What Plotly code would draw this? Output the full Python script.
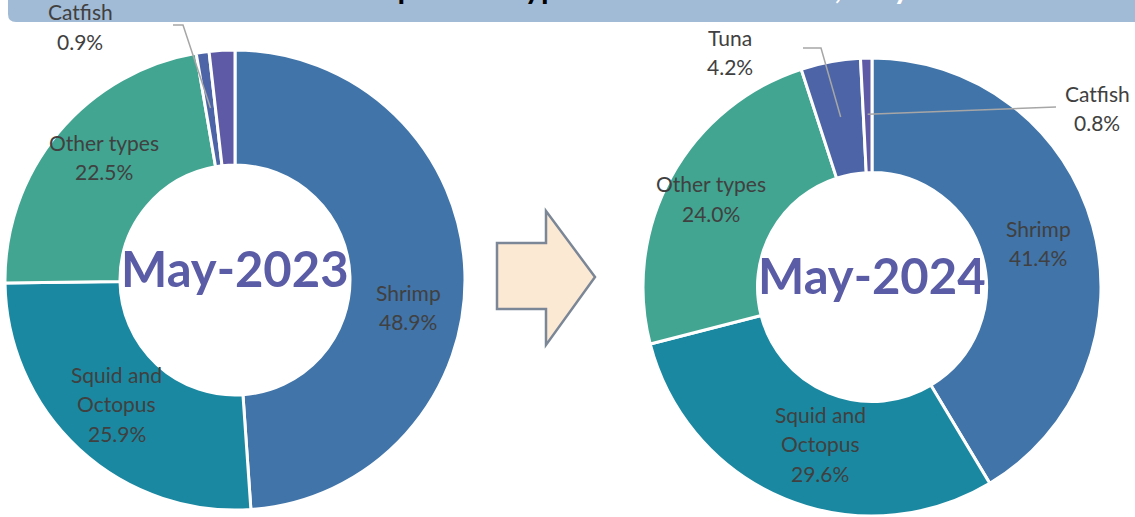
import math
import plotly.graph_objects as go

W, H = 1135, 517

# ---------------- data ----------------
labels_2023 = ["Shrimp", "Squid and Octopus", "Other types", "Catfish", "Tuna"]
values_2023 = [48.9, 25.9, 22.5, 0.9, 1.8]

labels_2024 = ["Shrimp", "Squid and Octopus", "Other types", "Tuna", "Catfish"]
values_2024 = [41.4, 29.6, 24.0, 4.2, 0.8]

center_text = ["May-2023", "May-2024"]
slice_colors = ["#4174a9", "#1b88a1", "#42a591", "#4d65a7", "#5e5aa5"]

# ---------------- geometry (pixels) ----------------
pies = [
    dict(labels=labels_2023, values=values_2023, cx=235, cy=280, r=230, name=center_text[0],
         show=["Shrimp", "Squid and Octopus", "Other types", "Catfish"]),
    dict(labels=labels_2024, values=values_2024, cx=872, cy=287, r=229, name=center_text[1],
         show=["Shrimp", "Squid and Octopus", "Other types", "Tuna", "Catfish"]),
]

# label first-line centre positions (pixels)
label_pos = [
    {"Shrimp": (408, 292), "Squid and Octopus": (117, 374), "Other types": (104, 142), "Catfish": (80, 12)},
    {"Shrimp": (1038, 228), "Squid and Octopus": (820, 414), "Other types": (711, 184),
     "Tuna": (730, 37), "Catfish": (1097, 93)},
]
# leader line start points (pixels) for small slices
leaders = [
    {"Catfish": [(173, 25), (183, 25)]},
    {"Tuna": [(803, 48), (821, 48)], "Catfish": [(1056, 107)]},
]

LINE = 29.5
LABEL_FONT = dict(family="Lato, 'Open Sans', sans-serif", size=21, color="#404040")


def px(x):
    return x / W


def py(y):
    return 1 - y / H


fig = go.Figure()
annotations = []
shapes = []

for i, p in enumerate(pies):
    fig.add_trace(go.Pie(
        labels=p["labels"], values=p["values"],
        hole=0.5, sort=False, direction="clockwise", rotation=0,
        marker=dict(colors=slice_colors, line=dict(color="white", width=3)),
        textinfo="none", hoverinfo="label+percent",
        domain=dict(x=[px(p["cx"] - p["r"]), px(p["cx"] + p["r"])],
                    y=[py(p["cy"] + p["r"]), py(p["cy"] - p["r"])]),
        showlegend=False,
    ))
    # centre text
    annotations.append(dict(
        x=px(p["cx"]), y=py(p["cy"] - 12), xref="paper", yref="paper",
        text="<b>%s</b>" % p["name"], showarrow=False,
        font=dict(family="Lato, 'Open Sans', sans-serif", size=49, color="#5b5ca6"),
        xanchor="center", yanchor="middle",
    ))
    total = sum(p["values"])
    cum = 0.0
    for lab, val in zip(p["labels"], p["values"]):
        mid = (cum + val / 2) / total * 2 * math.pi
        cum += val
        if lab not in p["show"]:
            continue
        lines = lab.replace("Squid and ", "Squid and\n").split("\n") + ["%.1f%%" % (val / total * 100)]
        x0, y0 = label_pos[i][lab]
        for k, t in enumerate(lines):
            annotations.append(dict(
                x=px(x0), y=py(y0 + k * LINE), xref="paper", yref="paper",
                text=t, showarrow=False, font=LABEL_FONT,
                xanchor="center", yanchor="middle",
            ))
        if lab in leaders[i]:
            rr = 0.755 * p["r"]
            ex = p["cx"] + rr * math.sin(mid)
            ey = p["cy"] - rr * math.cos(mid)
            pts = leaders[i][lab] + [(ex, ey)]
            path = "M " + " L ".join("%f,%f" % (px(a), py(b)) for a, b in pts)
            shapes.append(dict(type="path", path=path, xref="paper", yref="paper",
                               line=dict(color="#a6a6a6", width=1.5), layer="above"))

# title bar (partly outside the visible page)
path = ("M %f,%f L %f,%f L %f,%f L %f,%f Q %f,%f %f,%f Z" % (
    px(8), py(-5), px(1140), py(-5), px(1140), py(22), px(16), py(22),
    px(8), py(22), px(8), py(14)))
shapes.insert(0, dict(type="path", path=path, xref="paper", yref="paper",
                      fillcolor="#a1bad5", line=dict(width=0), layer="below"))

annotations.insert(0, dict(
    x=px(632), y=py(8), xref="paper", yref="paper", xanchor="center", yanchor="bottom",
    text="<b>Seafood product types <span style='color:white'>structure in 2023, May 2024</span></b>",
    showarrow=False, font=dict(family="Lato, sans-serif", size=31, color="black"),
))

# block arrow between the charts
arrow_pts = [(497, 243), (546, 243), (546, 211), (595, 277), (546, 345), (546, 309), (497, 309)]
apath = "M " + " L ".join("%f,%f" % (px(a), py(b)) for a, b in arrow_pts) + " Z"
shapes.append(dict(type="path", path=apath, xref="paper", yref="paper",
                   fillcolor="#fce9d4", line=dict(color="#7b8796", width=2.5), layer="above"))

fig.update_layout(
    width=W, height=H, margin=dict(l=0, r=0, t=0, b=0),
    paper_bgcolor="white", plot_bgcolor="white",
    annotations=annotations, shapes=shapes,
)

fig.write_html(
    "out.html",
    config={"displayModeBar": False},
    post_script="document.body.style.margin='0';document.body.style.overflow='hidden';",
)
